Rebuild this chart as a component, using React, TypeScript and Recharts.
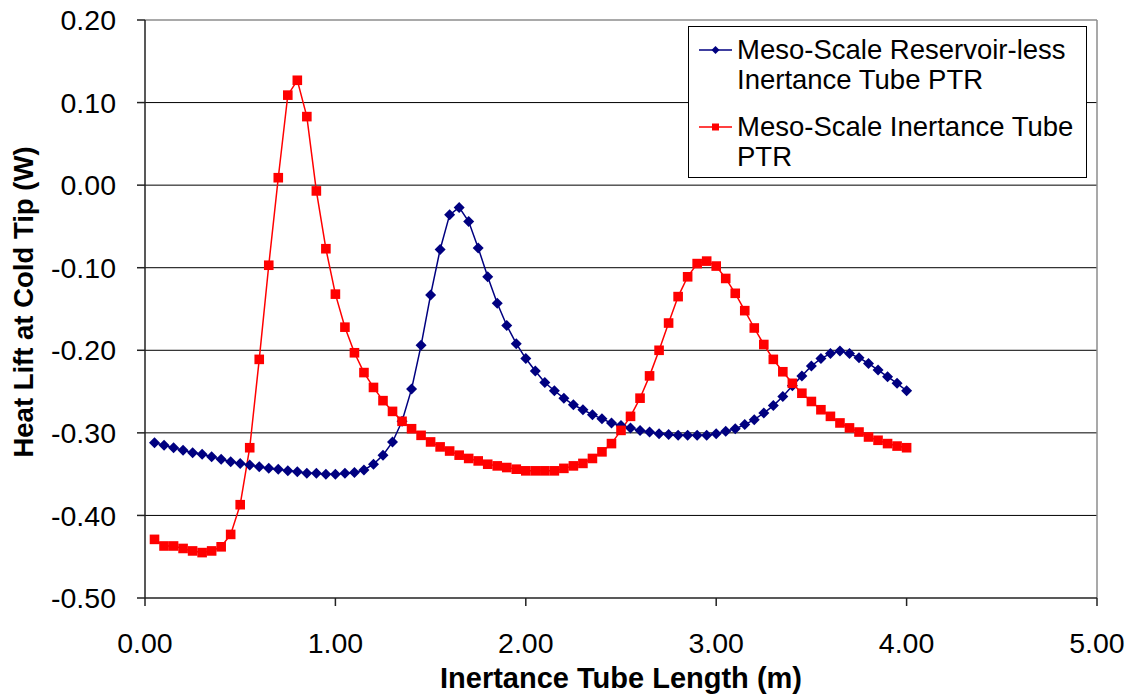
import { CartesianGrid, Line, LineChart, ReferenceLine, XAxis, YAxis } from "recharts";

const lengths = [
  0.05, 0.1, 0.15, 0.2, 0.25, 0.3, 0.35, 0.4, 0.45, 0.5,
  0.55, 0.6, 0.65, 0.7, 0.75, 0.8, 0.85, 0.9, 0.95, 1.0,
  1.05, 1.1, 1.15, 1.2, 1.25, 1.3, 1.35, 1.4, 1.45, 1.5,
  1.55, 1.6, 1.65, 1.7, 1.75, 1.8, 1.85, 1.9, 1.95, 2.0,
  2.05, 2.1, 2.15, 2.2, 2.25, 2.3, 2.35, 2.4, 2.45, 2.5,
  2.55, 2.6, 2.65, 2.7, 2.75, 2.8, 2.85, 2.9, 2.95, 3.0,
  3.05, 3.1, 3.15, 3.2, 3.25, 3.3, 3.35, 3.4, 3.45, 3.5,
  3.55, 3.6, 3.65, 3.7, 3.75, 3.8, 3.85, 3.9, 3.95, 4.0
];

// Meso-Scale Reservoir-less Inertance Tube PTR
const reservoirLess = [
  -0.312, -0.315, -0.318, -0.321, -0.324, -0.326, -0.329, -0.332, -0.335, -0.337,
  -0.339, -0.341, -0.343, -0.344, -0.346, -0.347, -0.349, -0.349, -0.35, -0.35,
  -0.349, -0.348, -0.345, -0.338, -0.327, -0.311, -0.286, -0.247, -0.194, -0.133,
  -0.078, -0.036, -0.027, -0.044, -0.076, -0.111, -0.143, -0.17, -0.192, -0.21,
  -0.225, -0.239, -0.249, -0.258, -0.266, -0.272, -0.278, -0.283, -0.288, -0.291,
  -0.294, -0.297, -0.299, -0.301, -0.302, -0.303, -0.303, -0.303, -0.303, -0.301,
  -0.298, -0.295, -0.29, -0.284, -0.276, -0.267, -0.256, -0.243, -0.231, -0.219,
  -0.21, -0.204, -0.201, -0.204, -0.209, -0.216, -0.224, -0.232, -0.24, -0.249
];

// Meso-Scale Inertance Tube PTR
const inertanceTube = [
  -0.429, -0.437, -0.437, -0.44, -0.443, -0.445, -0.443, -0.438, -0.423, -0.387,
  -0.318, -0.211, -0.097, 0.009, 0.109, 0.127, 0.083, -0.007, -0.077, -0.132,
  -0.172, -0.203, -0.227, -0.245, -0.261, -0.274, -0.286, -0.295, -0.303, -0.311,
  -0.317, -0.322, -0.327, -0.331, -0.334, -0.338, -0.34, -0.342, -0.344, -0.346,
  -0.346, -0.346, -0.346, -0.343, -0.34, -0.337, -0.331, -0.323, -0.313, -0.297,
  -0.28, -0.258, -0.231, -0.2, -0.167, -0.135, -0.111, -0.095, -0.092, -0.098,
  -0.113, -0.131, -0.152, -0.173, -0.193, -0.211, -0.226, -0.24, -0.252, -0.262,
  -0.272, -0.28, -0.288, -0.294, -0.299, -0.305, -0.309, -0.313, -0.316, -0.318
];

const xTicks = [0, 1, 2, 3, 4, 5];
const yTicks = [0.2, 0.1, 0, -0.1, -0.2, -0.3, -0.4, -0.5];
const gridValues = [0.1, 0, -0.1, -0.2, -0.3, -0.4];

const seriesNames = [
  ["Meso-Scale Reservoir-less", "Inertance Tube PTR"],
  ["Meso-Scale Inertance Tube", "PTR"]
];

const BLUE = "#000080";
const RED = "#ff0000";
const FONT = "Arial, 'Liberation Sans', sans-serif";

const data = lengths.map((len, i) => ({
  len,
  blue: reservoirLess[i],
  red: inertanceTube[i]
}));

function DiamondDot(props: any) {
  const { cx, cy, index } = props;
  if (cx == null || cy == null) return null;
  const r = 5.5;
  return (
    <polygon
      key={`d-${index}`}
      points={`${cx},${cy - r} ${cx + r},${cy} ${cx},${cy + r} ${cx - r},${cy}`}
      fill={BLUE}
    />
  );
}

function SquareDot(props: any) {
  const { cx, cy, index } = props;
  if (cx == null || cy == null) return null;
  const r = 4.8;
  return <rect key={`s-${index}`} x={cx - r} y={cy - r} width={r * 2} height={r * 2} fill={RED} />;
}

function LegendIcon({ color, kind }: { color: string; kind: "diamond" | "square" }) {
  return (
    <svg width={33} height={12} style={{ flex: "none", marginTop: 9 }}>
      <line x1={0} y1={6} x2={33} y2={6} stroke={color} strokeWidth={1.5} />
      {kind === "diamond" ? (
        <polygon points="16.5,2 20.5,6 16.5,10 12.5,6" fill={color} />
      ) : (
        <rect x={13} y={2.5} width={7} height={7} fill={color} />
      )}
    </svg>
  );
}

function ChartLegend() {
  const entries: { color: string; kind: "diamond" | "square"; lines: string[] }[] = [
    { color: BLUE, kind: "diamond", lines: seriesNames[0] },
    { color: RED, kind: "square", lines: seriesNames[1] }
  ];
  return (
    <div
      style={{
        position: "absolute",
        left: 688,
        top: 26,
        boxSizing: "border-box",
        width: 399,
        height: 152,
        border: "1px solid #000",
        background: "#fff",
        padding: "8px 0 0 10px",
        fontFamily: FONT,
        fontSize: 27.5,
        color: "#000"
      }}
    >
      {entries.map((e, i) => (
        <div key={i} style={{ display: "flex", alignItems: "flex-start", marginBottom: i === 0 ? 17 : 0 }}>
          <LegendIcon color={e.color} kind={e.kind} />
          <div style={{ marginLeft: 5, lineHeight: "30px", whiteSpace: "nowrap" }}>
            {e.lines.map((t) => (
              <div key={t}>{t}</div>
            ))}
          </div>
        </div>
      ))}
    </div>
  );
}

function YTitle(props: any) {
  const { viewBox } = props;
  const x = 23;
  const y = viewBox.y + viewBox.height / 2 - 7;
  return (
    <text
      x={x}
      y={y}
      transform={`rotate(-90, ${x}, ${y})`}
      textAnchor="middle"
      dominantBaseline="central"
      style={{ fontSize: 27.5, fontWeight: "bold", fontFamily: FONT, fill: "#000" }}
    >
      Heat Lift at Cold Tip (W)
    </text>
  );
}

export default function App() {
  const tickStyle = { fontSize: 28.5, fontFamily: FONT, fill: "#000" };
  return (
    <div style={{ position: "absolute", left: 0, top: 0, width: 1136, height: 698, background: "#fff" }}>
      <LineChart width={1136} height={698} data={data} margin={{ top: 20, right: 39, bottom: 0, left: 0 }}>
        <CartesianGrid horizontal vertical={false} horizontalValues={gridValues} stroke="#000" strokeWidth={1} />
        <ReferenceLine y={0.2} stroke="#8c8c8c" strokeWidth={1.5} />
        <ReferenceLine x={5} stroke="#8c8c8c" strokeWidth={1.5} />
        <XAxis
          dataKey="len"
          type="number"
          domain={[0, 5]}
          ticks={xTicks}
          tickFormatter={(v: number) => v.toFixed(2)}
          tick={tickStyle}
          tickSize={8}
          tickMargin={27}
          height={100}
          stroke="#222"
          strokeWidth={1.5}
          label={{
            value: "Inertance Tube Length (m)",
            position: "insideBottom",
            offset: 10,
            style: { fontSize: 29, fontWeight: "bold", fontFamily: FONT, fill: "#000" }
          }}
        />
        <YAxis
          type="number"
          domain={[-0.5, 0.2]}
          ticks={yTicks}
          allowDataOverflow
          tickFormatter={(v: number) => v.toFixed(2)}
          tick={tickStyle}
          tickSize={8}
          tickMargin={21}
          width={145}
          stroke="#222"
          strokeWidth={1.5}
          label={<YTitle />}
        />
        <Line
          dataKey="blue"
          name="Meso-Scale Reservoir-less Inertance Tube PTR"
          stroke={BLUE}
          strokeWidth={1.5}
          dot={DiamondDot}
          activeDot={false}
          isAnimationActive={false}
        />
        <Line
          dataKey="red"
          name="Meso-Scale Inertance Tube PTR"
          stroke={RED}
          strokeWidth={1.5}
          dot={SquareDot}
          activeDot={false}
          isAnimationActive={false}
        />
      </LineChart>
      <ChartLegend />
    </div>
  );
}
